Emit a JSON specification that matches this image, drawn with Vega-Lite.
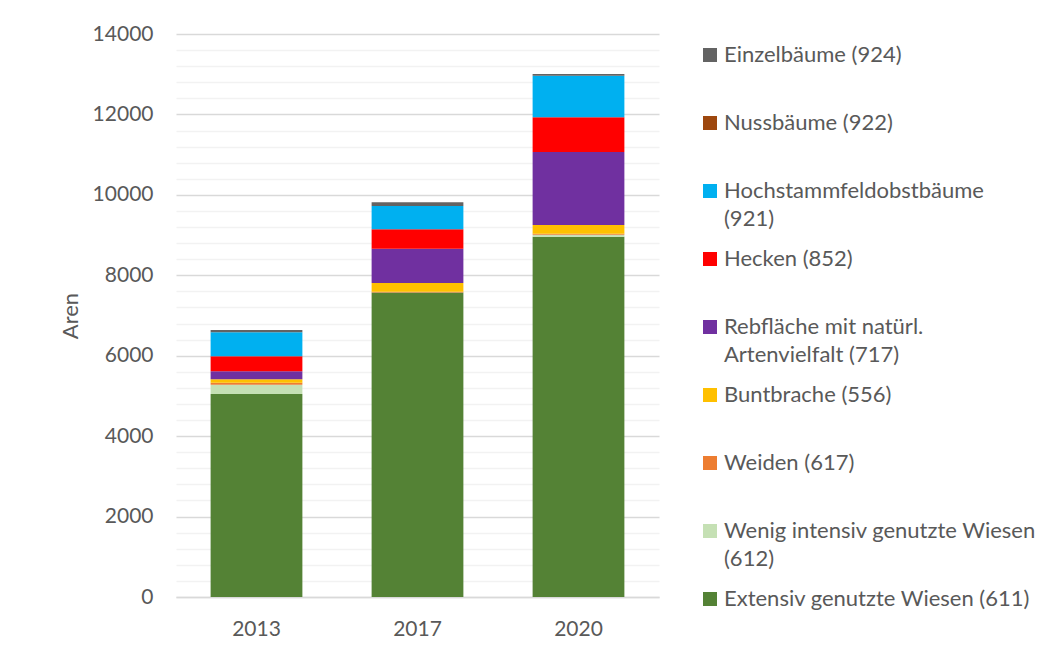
{
  "$schema": "https://vega.github.io/schema/vega-lite/v6.json",
  "width": 483,
  "height": 563,
  "autosize": {"type": "none"},
  "padding": {"left": 176, "top": 34, "right": 400, "bottom": 57},
  "background": "white",
  "config": {
    "view": {"stroke": null},
    "font": "Lato",
    "axis": {"labelFont": "Lato", "titleFont": "Lato", "labelColor": "#595959", "titleColor": "#595959"},
    "legend": {"labelFont": "Lato"}
  },
  "data": {
    "values": [
      {"year": "2013", "series": "Extensiv genutzte Wiesen (611)", "k": 1, "aren": 5048},
      {"year": "2013", "series": "Wenig intensiv genutzte Wiesen (612)", "k": 2, "aren": 232},
      {"year": "2013", "series": "Weiden (617)", "k": 3, "aren": 50},
      {"year": "2013", "series": "Buntbrache (556)", "k": 4, "aren": 83},
      {"year": "2013", "series": "Rebfläche mit natürl. Artenvielfalt (717)", "k": 5, "aren": 199},
      {"year": "2013", "series": "Hecken (852)", "k": 6, "aren": 373},
      {"year": "2013", "series": "Hochstammfeldobstbäume (921)", "k": 7, "aren": 597},
      {"year": "2013", "series": "Nussbäume (922)", "k": 8, "aren": 0},
      {"year": "2013", "series": "Einzelbäume (924)", "k": 9, "aren": 60},
      {"year": "2017", "series": "Extensiv genutzte Wiesen (611)", "k": 1, "aren": 7570},
      {"year": "2017", "series": "Wenig intensiv genutzte Wiesen (612)", "k": 2, "aren": 0},
      {"year": "2017", "series": "Weiden (617)", "k": 3, "aren": 20},
      {"year": "2017", "series": "Buntbrache (556)", "k": 4, "aren": 218},
      {"year": "2017", "series": "Rebfläche mit natürl. Artenvielfalt (717)", "k": 5, "aren": 853},
      {"year": "2017", "series": "Hecken (852)", "k": 6, "aren": 483},
      {"year": "2017", "series": "Hochstammfeldobstbäume (921)", "k": 7, "aren": 579},
      {"year": "2017", "series": "Nussbäume (922)", "k": 8, "aren": 0},
      {"year": "2017", "series": "Einzelbäume (924)", "k": 9, "aren": 91},
      {"year": "2020", "series": "Extensiv genutzte Wiesen (611)", "k": 1, "aren": 8960},
      {"year": "2020", "series": "Wenig intensiv genutzte Wiesen (612)", "k": 2, "aren": 50},
      {"year": "2020", "series": "Weiden (617)", "k": 3, "aren": 25},
      {"year": "2020", "series": "Buntbrache (556)", "k": 4, "aren": 216},
      {"year": "2020", "series": "Rebfläche mit natürl. Artenvielfalt (717)", "k": 5, "aren": 1815},
      {"year": "2020", "series": "Hecken (852)", "k": 6, "aren": 863},
      {"year": "2020", "series": "Hochstammfeldobstbäume (921)", "k": 7, "aren": 1035},
      {"year": "2020", "series": "Nussbäume (922)", "k": 8, "aren": 0},
      {"year": "2020", "series": "Einzelbäume (924)", "k": 9, "aren": 40}
    ]
  },
  "mark": {"type": "bar"},
  "encoding": {
    "x": {
      "field": "year",
      "type": "nominal",
      "scale": {"paddingInner": 0.43, "paddingOuter": 0.215},
      "axis": {
        "title": null,
        "labelAngle": 0,
        "labelFontSize": 21,
        "labelPadding": 21,
        "ticks": false,
        "domainColor": "#d9d9d9",
        "domainWidth": 1.3,
        "grid": false
      }
    },
    "y": {
      "field": "aren",
      "type": "quantitative",
      "stack": "zero",
      "scale": {"domain": [0, 14000], "nice": false},
      "axis": {
        "title": "Aren",
        "titleFontSize": 22,
        "titleFontWeight": "normal",
        "titleX": -106,
        "titleY": 281.5,
        "titleAngle": -90,
        "titleAlign": "center",
        "titleBaseline": "middle",
        "values": [0, 400, 800, 1200, 1600, 2000, 2400, 2800, 3200, 3600, 4000, 4400, 4800, 5200, 5600, 6000, 6400, 6800, 7200, 7600, 8000, 8400, 8800, 9200, 9600, 10000, 10400, 10800, 11200, 11600, 12000, 12400, 12800, 13200, 13600, 14000],
        "labelExpr": "datum.value % 2000 === 0 ? format(datum.value, 'd') : ''",
        "labelFontSize": 21,
        "labelPadding": 23,
        "ticks": false,
        "domain": false,
        "grid": true,
        "gridColor": {"condition": {"test": "datum.value % 2000 === 0", "value": "#d9d9d9"}, "value": "#f2f2f2"},
        "gridWidth": 1.3
      }
    },
    "color": {
      "field": "series",
      "type": "nominal",
      "scale": {
        "domain": ["Einzelbäume (924)", "Nussbäume (922)", "Hochstammfeldobstbäume (921)", "Hecken (852)", "Rebfläche mit natürl. Artenvielfalt (717)", "Buntbrache (556)", "Weiden (617)", "Wenig intensiv genutzte Wiesen (612)", "Extensiv genutzte Wiesen (611)"],
        "range": ["#636363", "#9e480e", "#00b0f0", "#ff0000", "#7030a0", "#ffc000", "#ed7d31", "#c5e0b4", "#548235"]
      },
      "legend": {
        "title": null,
        "orient": "none",
        "legendX": 523,
        "legendY": 10,
        "padding": 0,
        "symbolType": "square",
        "symbolSize": 196,
        "symbolStrokeWidth": 0,
        "symbolOpacity": 1,
        "labelFontSize": 22,
        "labelColor": "#595959",
        "labelOffset": 3,
        "labelLimit": 500,
        "rowPadding": 18,
        "labelExpr": "datum.label === 'Hochstammfeldobstbäume (921)' ? ['Hochstammfeldobstbäume', '(921)'] : datum.label === 'Rebfläche mit natürl. Artenvielfalt (717)' ? ['Rebfläche mit natürl.', 'Artenvielfalt (717)'] : datum.label === 'Wenig intensiv genutzte Wiesen (612)' ? ['Wenig intensiv genutzte Wiesen', '(612)'] : [datum.label, '']",
        "encode": {"labels": {"update": {"lineHeight": {"value": 28}}}}
      }
    },
    "order": {"field": "k", "type": "quantitative", "sort": "ascending"}
  }
}
